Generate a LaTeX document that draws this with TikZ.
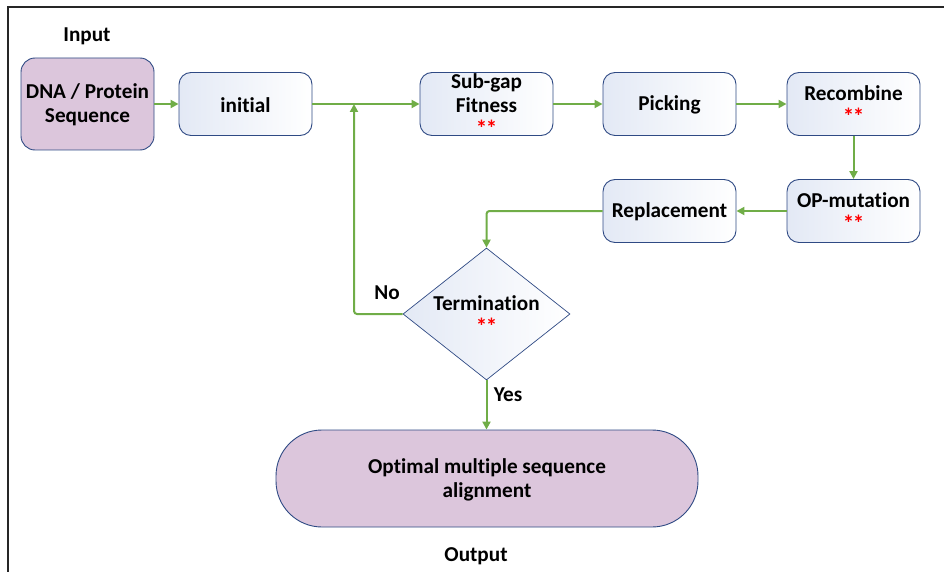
\documentclass[tikz,border=0pt]{standalone}
\usepackage{fontspec}
\setmainfont[Ligatures=NoCommon]{Carlito}
\usetikzlibrary{shapes.geometric,arrows.meta}
\definecolor{flowgreen}{HTML}{70AD47}
\definecolor{boxedge}{HTML}{2F4A84}
\definecolor{lilac}{HTML}{DCC6DC}
\definecolor{paleblue}{HTML}{E3E9F5}
\newcommand\redstars{{\fontsize{23}{23.5}\selectfont\color{red}*\kern-1.5pt*}}
\begin{document}
\begin{tikzpicture}[x=1pt,y=-1pt,
  every node/.style={font=\fontsize{21.2}{24}\selectfont\bfseries, align=center, inner sep=0pt},
  stepbox/.style={draw=boxedge, line width=0.9pt, rounded corners=12pt,
    minimum width=133pt, minimum height=63pt, left color=paleblue, right color=white},
  inbox/.style={draw=boxedge, line width=0.9pt, rounded corners=14pt,
    minimum width=133pt, minimum height=92pt, fill=lilac},
  outbox/.style={draw=boxedge, line width=0.9pt, rounded corners=46pt,
    minimum width=422pt, minimum height=97pt, fill=lilac},
  decision/.style={draw=boxedge, line width=0.7pt, diamond, minimum width=167pt,
    minimum height=132pt, left color=paleblue, right color=white},
  flow/.style={draw=flowgreen, line width=2pt, rounded corners=3pt,
    -{Triangle[length=8pt,width=8pt]}},
  caption/.style={}
]
\useasboundingbox (0,0) rectangle (944,572);
% frame
\draw[line width=1.4pt, black!85] (8,572) -- (8,7) -- (944,7);

% nodes
\node[caption] (inlabel) at (87,36) {Input};
\node[inbox] (dna) at (87.5,104) {};
\node (dnatext) at (87.5,105) {DNA / Protein\\Sequence};
\node[stepbox] (init) at (245.5,104) {};
\node (inittext) at (245.5,105) {initial};
\node[stepbox] (fit) at (486.5,104) {};
\node (fittext) at (486.5,105) {Sub-gap\\Fitness\\\redstars};
\node[stepbox] (pick) at (669.5,104) {};
\node (picktext) at (669.5,105) {Picking};
\node[stepbox] (recomb) at (853.5,104) {};
\node (recombtext) at (853.5,105) {Recombine\\\redstars};
\node[stepbox] (mut) at (853.5,211) {};
\node (muttext) at (853.5,212) {OP-mutation\\\redstars};
\node[stepbox] (repl) at (669.5,211) {};
\node (repltext) at (669.5,212) {Replacement};
\node[decision] (term) at (486.5,314) {};
\node (termtext) at (486.5,315) {Termination\\\redstars};
\node[outbox] (out) at (487,478.5) {};
\node (outtext) at (487,479.5) {Optimal multiple sequence\\alignment};
\node[caption] (outlabel) at (476,556) {Output};
\node[caption] (nolabel) at (387,293) {No};
\node[caption] (yeslabel) at (508,395) {Yes};
\coordinate (loopjoin) at (354,104);

% connectors
\draw[flow] (dna) -- (init);
\draw[flow] (init) -- (fit);
\draw[flow] (fit) -- (pick);
\draw[flow] (pick) -- (recomb);
\draw[flow] (recomb) -- (mut);
\draw[flow] (mut) -- (repl);
\draw[flow] (repl.west) -| (term.north);
\draw[flow] (term.west) -| (loopjoin);
\draw[flow] (term.south) -- (out.north -| term.south);
\end{tikzpicture}
\end{document}
